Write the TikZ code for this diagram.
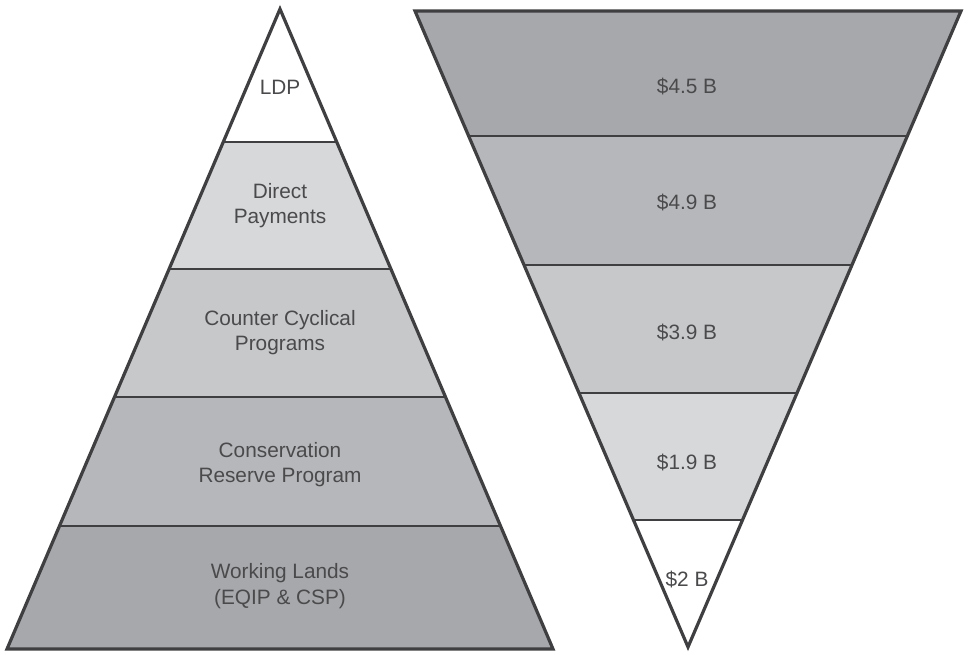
\documentclass[tikz,border=0pt]{standalone}
\usepackage{fontspec}
\setmainfont{Liberation Sans}
\definecolor{tierA}{HTML}{A7A8AB}
\definecolor{tierB}{HTML}{B6B7BA}
\definecolor{tierC}{HTML}{C7C8CA}
\definecolor{tierD}{HTML}{D7D8DA}
\definecolor{edge}{HTML}{3F3F41}
\definecolor{txt}{HTML}{4A4A4C}
\tikzset{
  outline/.style={draw=edge, line width=3.2pt, line join=miter},
  divider/.style={draw=edge, line width=2pt},
  label/.style={text=txt, align=center, inner sep=0pt,
    font=\fontsize{20.8pt}{25.5pt}\selectfont}
}
\begin{document}
\begin{tikzpicture}[x=1pt,y=-1pt]
\useasboundingbox (0,0) rectangle (964,651);
% left pyramid
\coordinate (A) at (280,9);
\coordinate (BL) at (7,649);
\coordinate (BR) at (553,649);
\begin{scope}
  \clip (A) -- (BL) -- (BR) -- cycle;
  \fill[white] (0,0) rectangle (600,142);
  \fill[tierD] (0,142) rectangle (600,269);
  \fill[tierC] (0,269) rectangle (600,397);
  \fill[tierB] (0,397) rectangle (600,526);
  \fill[tierA] (0,526) rectangle (600,651);
  \draw[divider] (0,142) -- (600,142);
  \draw[divider] (0,269) -- (600,269);
  \draw[divider] (0,397) -- (600,397);
  \draw[divider] (0,526) -- (600,526);
\end{scope}
\draw[outline] (A) -- (BL) -- (BR) -- cycle;
\node[label] (ldp) at (280,87) {LDP};
\node[label] (dp) at (280,205.5) {Direct\\Payments};
\node[label] (ccp) at (280,332.5) {Counter Cyclical\\Programs};
\node[label] (crp) at (280,464.5) {Conservation\\Reserve Program};
\node[label] (wl) at (280,586) {Working Lands\\(EQIP \& CSP)};
% right inverted pyramid
\coordinate (TL) at (415,11);
\coordinate (TR) at (961,11);
\coordinate (V) at (688,647);
\begin{scope}
  \clip (TL) -- (TR) -- (V) -- cycle;
  \fill[tierA] (400,0) rectangle (964,136);
  \fill[tierB] (400,136) rectangle (964,265);
  \fill[tierC] (400,265) rectangle (964,393);
  \fill[tierD] (400,393) rectangle (964,520);
  \fill[white] (400,520) rectangle (964,651);
  \draw[divider] (400,136) -- (964,136);
  \draw[divider] (400,265) -- (964,265);
  \draw[divider] (400,393) -- (964,393);
  \draw[divider] (400,520) -- (964,520);
\end{scope}
\draw[outline] (TL) -- (TR) -- (V) -- cycle;
\node[label] (r1) at (687,87) {\$4.5 B};
\node[label] (r2) at (687,203) {\$4.9 B};
\node[label] (r3) at (687,333) {\$3.9 B};
\node[label] (r4) at (687,463) {\$1.9 B};
\node[label] (r5) at (687,580) {\$2 B};
\end{tikzpicture}
\end{document}
